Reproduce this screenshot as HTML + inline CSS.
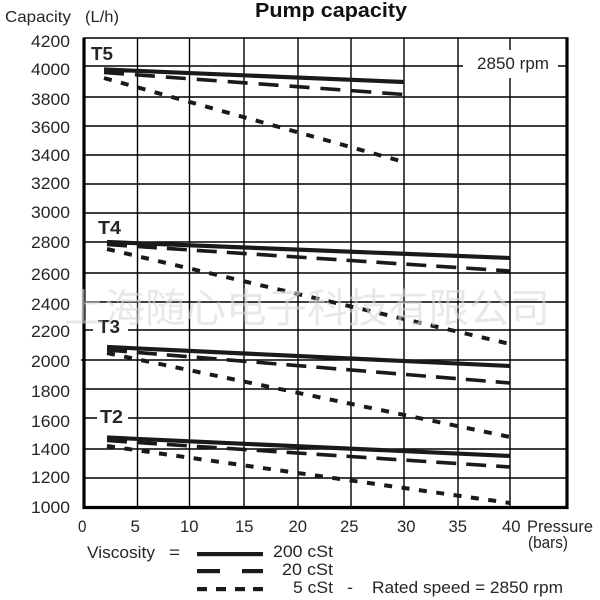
<!DOCTYPE html>
<html><head><meta charset="utf-8"><style>
html,body{margin:0;padding:0;background:#fff;}
svg{display:block;}
text{font-family:"Liberation Sans",Arial,sans-serif;fill:#262626;}
</style></head><body>
<svg width="600" height="600" viewBox="0 0 600 600" xmlns="http://www.w3.org/2000/svg">
<rect x="0" y="0" width="600" height="600" fill="#fff"/>
<!-- grid horizontal -->
<g stroke="#000" stroke-width="1.4">
<line x1="84" y1="38" x2="567" y2="38"/>
<line x1="84" y1="66" x2="567" y2="66"/>
<line x1="84" y1="97" x2="567" y2="97"/>
<line x1="84" y1="126" x2="567" y2="126"/>
<line x1="84" y1="155" x2="567" y2="155"/>
<line x1="84" y1="184" x2="567" y2="184"/>
<line x1="84" y1="213" x2="567" y2="213"/>
<line x1="84" y1="242" x2="567" y2="242"/>
<line x1="84" y1="273" x2="567" y2="273"/>
<line x1="84" y1="302" x2="567" y2="302"/>
<line x1="84" y1="330" x2="567" y2="330"/>
<line x1="81" y1="360" x2="567" y2="360"/>
<line x1="84" y1="389" x2="567" y2="389"/>
<line x1="84" y1="418" x2="567" y2="418"/>
<line x1="84" y1="449" x2="567" y2="449"/>
<line x1="84" y1="478" x2="567" y2="478"/>
<!-- vertical -->
<line x1="137.5" y1="38" x2="137.5" y2="507"/>
<line x1="189.5" y1="38" x2="189.5" y2="507"/>
<line x1="244" y1="38" x2="244" y2="507"/>
<line x1="298" y1="38" x2="298" y2="507"/>
<line x1="351" y1="38" x2="351" y2="507"/>
<line x1="404" y1="38" x2="404" y2="507"/>
<line x1="458" y1="38" x2="458" y2="507"/>
<line x1="510" y1="38" x2="510" y2="507"/>
</g>
<!-- thick borders -->
<g stroke="#000" stroke-width="3.2" fill="none">
<line x1="84" y1="37.5" x2="84" y2="509"/>
<line x1="82.5" y1="507.5" x2="568.5" y2="507.5"/>
<line x1="567" y1="37.3" x2="567" y2="509"/>
</g>
<!-- label backgrounds -->
<rect x="463" y="50" width="95" height="28" fill="#fff"/>
<rect x="93" y="318" width="35" height="20" fill="#fff"/>
<rect x="97" y="406" width="31" height="22" fill="#fff"/>

<!-- curves -->
<g stroke="#1a1a1a" fill="none" stroke-linecap="butt">
<!-- T5 -->
<line x1="104" y1="69.5" x2="404" y2="82" stroke-width="4.2"/>
<line x1="104" y1="72.5" x2="404" y2="94.5" stroke-width="3.6" stroke-dasharray="20 11"/>
<line x1="104" y1="78" x2="404" y2="162" stroke-width="4" stroke-dasharray="8 9.5"/>
<!-- T4 -->
<line x1="107" y1="242" x2="510" y2="258" stroke-width="4.2"/>
<line x1="107" y1="244.5" x2="510" y2="271" stroke-width="3.6" stroke-dasharray="20 10"/>
<line x1="107" y1="249" x2="510" y2="344" stroke-width="4" stroke-dasharray="8 9.5"/>
<!-- T3 -->
<line x1="107" y1="347" x2="510" y2="366" stroke-width="4.2"/>
<line x1="107" y1="350" x2="510" y2="383" stroke-width="3.6" stroke-dasharray="20 10"/>
<line x1="107" y1="353" x2="510" y2="437" stroke-width="4" stroke-dasharray="8 9.5"/>
<!-- T2 -->
<line x1="107" y1="437.5" x2="510" y2="456" stroke-width="4.2"/>
<line x1="107" y1="440.5" x2="510" y2="467" stroke-width="3.6" stroke-dasharray="20 10"/>
<line x1="107" y1="446" x2="510" y2="503" stroke-width="4" stroke-dasharray="8 9.5"/>
</g>

<!-- titles -->
<text x="255" y="17" font-size="20" font-weight="bold" textLength="152" lengthAdjust="spacingAndGlyphs" style="fill:#111">Pump capacity</text>
<text x="5" y="22" font-size="16" textLength="66" lengthAdjust="spacingAndGlyphs">Capacity</text>
<text x="85" y="22" font-size="16" textLength="34" lengthAdjust="spacingAndGlyphs">(L/h)</text>

<!-- y tick labels -->
<g font-size="16.5">
<text x="31" y="47" textLength="39" lengthAdjust="spacingAndGlyphs">4200</text>
<text x="31" y="75" textLength="39" lengthAdjust="spacingAndGlyphs">4000</text>
<text x="31" y="105" textLength="39" lengthAdjust="spacingAndGlyphs">3800</text>
<text x="31" y="133" textLength="39" lengthAdjust="spacingAndGlyphs">3600</text>
<text x="31" y="161" textLength="39" lengthAdjust="spacingAndGlyphs">3400</text>
<text x="31" y="189" textLength="39" lengthAdjust="spacingAndGlyphs">3200</text>
<text x="31" y="218" textLength="39" lengthAdjust="spacingAndGlyphs">3000</text>
<text x="31" y="248" textLength="39" lengthAdjust="spacingAndGlyphs">2800</text>
<text x="31" y="280" textLength="39" lengthAdjust="spacingAndGlyphs">2600</text>
<text x="31" y="310" textLength="39" lengthAdjust="spacingAndGlyphs">2400</text>
<text x="31" y="337" textLength="39" lengthAdjust="spacingAndGlyphs">2200</text>
<text x="31" y="367" textLength="39" lengthAdjust="spacingAndGlyphs">2000</text>
<text x="31" y="397" textLength="39" lengthAdjust="spacingAndGlyphs">1800</text>
<text x="31" y="427" textLength="39" lengthAdjust="spacingAndGlyphs">1600</text>
<text x="31" y="455" textLength="39" lengthAdjust="spacingAndGlyphs">1400</text>
<text x="31" y="483" textLength="39" lengthAdjust="spacingAndGlyphs">1200</text>
<text x="31" y="513" textLength="39" lengthAdjust="spacingAndGlyphs">1000</text>
</g>

<!-- x tick labels -->
<g font-size="16.5">
<text x="78" y="532" textLength="8.5" lengthAdjust="spacingAndGlyphs">0</text>
<text x="130.5" y="532" textLength="9.5" lengthAdjust="spacingAndGlyphs">5</text>
<text x="180" y="532" textLength="18.5" lengthAdjust="spacingAndGlyphs">10</text>
<text x="235" y="532" textLength="18.5" lengthAdjust="spacingAndGlyphs">15</text>
<text x="288.5" y="532" textLength="18.5" lengthAdjust="spacingAndGlyphs">20</text>
<text x="340" y="532" textLength="18.5" lengthAdjust="spacingAndGlyphs">25</text>
<text x="397" y="532" textLength="18.5" lengthAdjust="spacingAndGlyphs">30</text>
<text x="448.5" y="532" textLength="18.5" lengthAdjust="spacingAndGlyphs">35</text>
<text x="502" y="532" textLength="18.5" lengthAdjust="spacingAndGlyphs">40</text>
<text x="527" y="532" textLength="66" lengthAdjust="spacingAndGlyphs">Pressure</text>
<text x="528" y="548" textLength="40" lengthAdjust="spacingAndGlyphs">(bars)</text>
</g>

<!-- 2850 rpm -->
<text x="477" y="69" font-size="16.5" textLength="72" lengthAdjust="spacingAndGlyphs">2850 rpm</text>

<!-- T labels -->
<g font-size="18" font-weight="bold" style="fill:#111">
<text x="91" y="60" textLength="22" lengthAdjust="spacingAndGlyphs">T5</text>
<text x="98" y="234" textLength="23" lengthAdjust="spacingAndGlyphs">T4</text>
<text x="98" y="333" textLength="22" lengthAdjust="spacingAndGlyphs">T3</text>
<text x="100" y="423" textLength="23" lengthAdjust="spacingAndGlyphs">T2</text>
</g>

<!-- legend -->
<g font-size="16.5">
<text x="87" y="558" textLength="68" lengthAdjust="spacingAndGlyphs">Viscosity</text>
<text x="169" y="558" textLength="11" lengthAdjust="spacingAndGlyphs">=</text>
<text x="273" y="557" textLength="60" lengthAdjust="spacingAndGlyphs">200 cSt</text>
<text x="282" y="575" textLength="51" lengthAdjust="spacingAndGlyphs">20 cSt</text>
<text x="293" y="593" textLength="40" lengthAdjust="spacingAndGlyphs">5 cSt</text>
<text x="347" y="593" textLength="6" lengthAdjust="spacingAndGlyphs">-</text>
<text x="372" y="593" textLength="191" lengthAdjust="spacingAndGlyphs">Rated speed = 2850 rpm</text>
</g>
<g fill="#1a1a1a">
<rect x="197" y="552" width="66" height="4.2"/>
<rect x="197" y="569" width="23" height="4.2"/>
<rect x="242" y="569" width="21" height="4.2"/>
<rect x="197" y="587" width="10" height="4.2"/>
<rect x="216" y="587" width="10" height="4.2"/>
<rect x="235" y="587" width="10" height="4.2"/>
<rect x="253" y="587" width="10" height="4.2"/>
</g>

<!-- watermark -->
<text x="64" y="322" font-size="40" textLength="486" lengthAdjust="spacingAndGlyphs" style="font-family:'Liberation Sans','Noto Sans CJK SC',sans-serif;fill:#d8d8d8;fill-opacity:0.6">上海随心电子科技有限公司</text>
</svg>
</body></html>
